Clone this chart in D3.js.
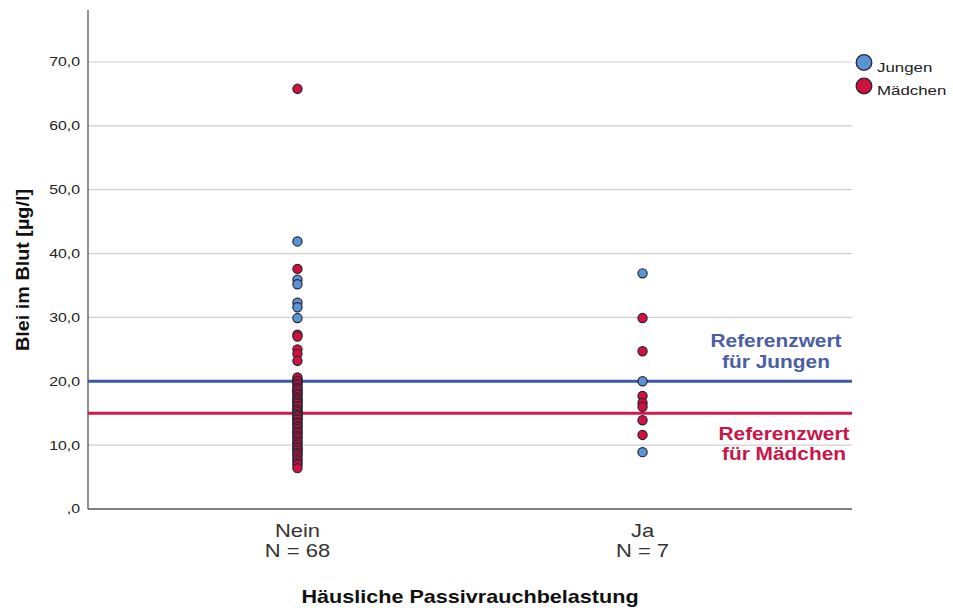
<!DOCTYPE html>
<html>
<head>
<meta charset="utf-8">
<script src="https://d3js.org/d3.v7.min.js"></script>
<style>
  html, body { margin: 0; padding: 0; background: #fff; }
  svg { display: block; font-family: "Liberation Sans", Arial, sans-serif; }
</style>
</head>
<body>
<svg id="chart" width="953" height="608"></svg>
<script>
// Exposure groups (x categories) and their sample-size labels
const categories = ["Nein", "Ja"];
const groupCounts = ["N = 68", "N = 7"];

// Blood lead values [µg/l] per group and sex
const neinJungen = [41.9, 35.9, 35.2, 32.3, 31.6, 29.9, 20.3, 19.9, 18.4, 16.9, 14.4, 12.0, 9.4];
const neinMaedchen = [65.8, 37.6, 27.3, 27.0, 25.0, 24.3, 23.2,
  20.6, 20.1, 19.7, 19.4, 19.0, 18.8, 18.5, 18.1, 17.9, 17.5, 17.3, 17.0, 16.7, 16.5,
  16.1, 16.0, 15.6, 15.5, 15.2, 14.9, 14.7, 14.5, 14.1, 14.0, 13.6, 13.4, 13.0, 12.8,
  12.5, 12.1, 11.9, 11.5, 11.3, 11.0, 10.6, 10.4, 10.1, 9.7, 9.5, 9.2, 8.8, 8.6,
  8.3, 7.9, 7.6, 7.2, 6.9, 6.4];
const jaJungen = [36.9, 20.0, 8.9];
const jaMaedchen = [29.9, 24.7, 17.7, 16.6, 16.0, 13.9, 11.6];

// Reference values
const refJungen = 20;
const refMaedchen = 15;

// Y ticks and their German-formatted labels
const yTicks = [0, 10, 20, 30, 40, 50, 60, 70];
const yTickLabels = [",0", "10,0", "20,0", "30,0", "40,0", "50,0", "60,0", "70,0"];

const legendLabels = ["Jungen", "Mädchen"];
const colJungen = "#5a93d6";
const colMaedchen = "#d0103d";

const points = [
  ...neinJungen.map(v => ({ g: "Nein", v, s: "J" })),
  ...neinMaedchen.map(v => ({ g: "Nein", v, s: "M" })),
  ...jaJungen.map(v => ({ g: "Ja", v, s: "J" })),
  ...jaMaedchen.map(v => ({ g: "Ja", v, s: "M" }))
];

const svg = d3.select("#chart");
const plotLeft = 88, plotRight = 852, plotTop = 10, plotBottom = 509;

const x = d3.scalePoint().domain(categories).range([plotLeft, plotRight]).padding(0.607);
const y = d3.scaleLinear().domain([0, 70]).range([plotBottom, 62]);

// Text helper: the labels use a slightly widened sans face
function label(parent, px, py, str, opts) {
  const o = Object.assign({ size: 14, sx: 1.2, anchor: "start", weight: "normal", fill: "#222", rot: 0 }, opts);
  return parent.append("text")
    .attr("transform", `translate(${px},${py}) rotate(${o.rot}) scale(${o.sx},1)`)
    .attr("text-anchor", o.anchor)
    .attr("font-size", o.size)
    .attr("font-weight", o.weight)
    .attr("fill", o.fill)
    .text(str);
}

// Gridlines
svg.append("g").selectAll("line").data(yTicks.slice(1)).join("line")
  .attr("x1", plotLeft).attr("x2", plotRight)
  .attr("y1", d => y(d)).attr("y2", d => y(d))
  .attr("stroke", "#cfcfcf").attr("stroke-width", 1.2);

// Y tick labels
const yl = svg.append("g");
yTicks.forEach((t, i) => {
  label(yl, 80, y(t) + 4.4, yTickLabels[i], { size: 12.5, sx: 1.27, anchor: "end", fill: "#222" });
});

// Axis lines
svg.append("line").attr("x1", plotLeft).attr("x2", plotLeft).attr("y1", plotTop).attr("y2", plotBottom)
  .attr("stroke", "#555").attr("stroke-width", 1.3);
svg.append("line").attr("x1", plotLeft).attr("x2", plotRight).attr("y1", plotBottom).attr("y2", plotBottom)
  .attr("stroke", "#555").attr("stroke-width", 1.3);

// Reference lines
svg.append("line").attr("x1", plotLeft).attr("x2", plotRight)
  .attr("y1", y(refJungen)).attr("y2", y(refJungen))
  .attr("stroke", "#3d58a8").attr("stroke-width", 3);
svg.append("line").attr("x1", plotLeft).attr("x2", plotRight)
  .attr("y1", y(refMaedchen)).attr("y2", y(refMaedchen))
  .attr("stroke", "#d3194b").attr("stroke-width", 3);

// Points
svg.append("g").selectAll("circle").data(points).join("circle")
  .attr("cx", d => x(d.g)).attr("cy", d => y(d.v)).attr("r", 4.6)
  .attr("fill", d => d.s === "J" ? colJungen : colMaedchen)
  .attr("stroke", "#262636").attr("stroke-width", 1.2);

// Reference labels
const refLab = svg.append("g");
const refOpts = (fill) => ({ size: 18, sx: 1.16, anchor: "middle", weight: "bold", fill });
label(refLab, 776, 346.5, "Referenzwert", refOpts("#4a5da6"));
label(refLab, 776, 367.5, "für Jungen", refOpts("#4a5da6"));
label(refLab, 784, 439.5, "Referenzwert", refOpts("#c8164a"));
label(refLab, 784, 459.5, "für Mädchen", refOpts("#c8164a"));

// X category labels
const xl = svg.append("g");
categories.forEach((c, i) => {
  label(xl, x(c), 537, c, { size: 18, sx: 1.22, anchor: "middle", fill: "#333" });
  label(xl, x(c), 557, groupCounts[i], { size: 18, sx: 1.22, anchor: "middle", fill: "#333" });
});

// Axis titles
label(svg, 470, 603, "Häusliche Passivrauchbelastung", { size: 18, sx: 1.2, anchor: "middle", weight: "bold", fill: "#111" });
label(svg, 29, 270, "Blei im Blut [µg/l]", { size: 18, sx: 1.1, anchor: "middle", weight: "bold", fill: "#111", rot: -90 });

// Legend
const lg = svg.append("g");
[colJungen, colMaedchen].forEach((c, i) => {
  lg.append("circle").attr("cx", 864).attr("cy", 62.5 + i * 23.5).attr("r", 7.8)
    .attr("fill", c).attr("stroke", "#262636").attr("stroke-width", 1.3);
  label(lg, 877, 72 + i * 23, legendLabels[i], { size: 13.5, sx: 1.25, fill: "#222" });
});
</script>
</body>
</html>
